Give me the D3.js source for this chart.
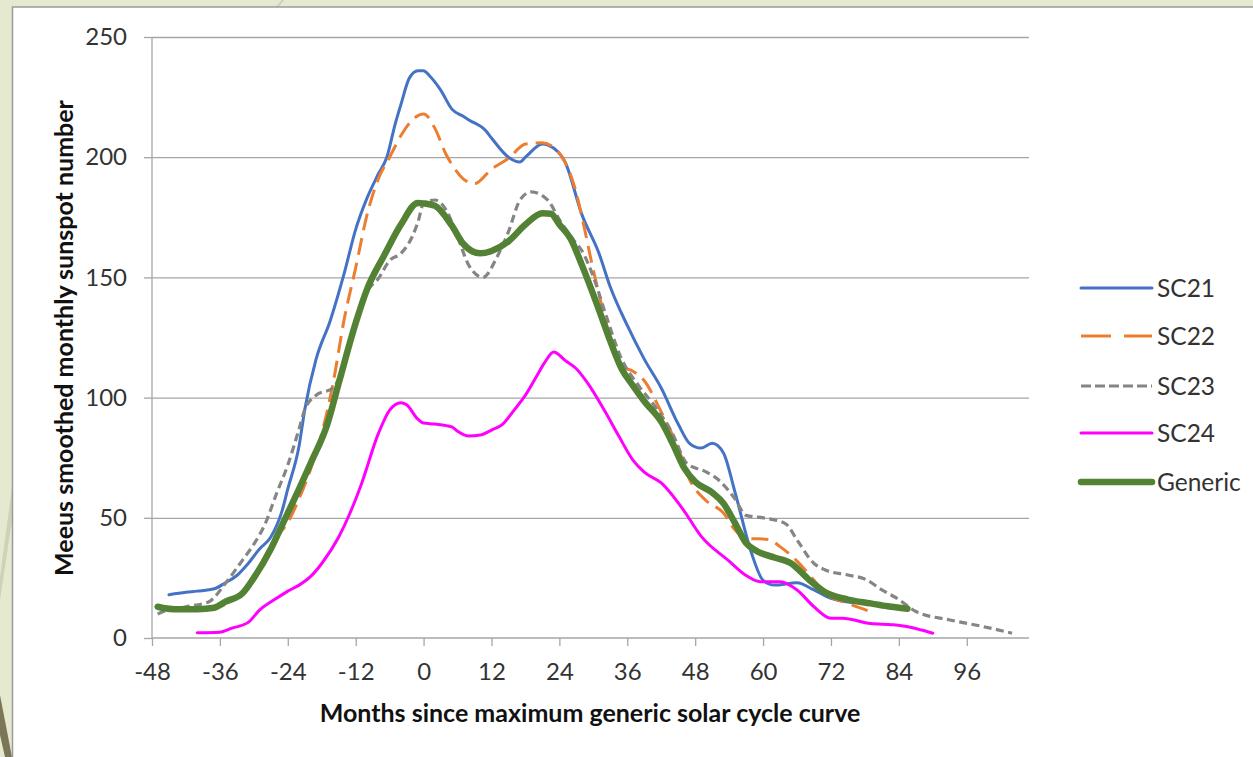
<!DOCTYPE html>
<html>
<head>
<meta charset="utf-8">
<script src="https://cdn.jsdelivr.net/npm/d3@7"></script>
<style>
	html, body { margin: 0; padding: 0; background: #e6e9d2; }
	svg { display: block; }
	text { font-family: Lato, "Open Sans", sans-serif; }
</style>
</head>
<body>
<div id="chart"></div>
<script>

// [months since max, smoothed sunspot number]
const sc21 = [[-45,18],[-42,19],[-40,19.5],[-37,20.5],[-35,23],[-33,26],[-31,31],[-29,37],[-27,42],[-25,53],[-24,62],[-22,80],[-21,95],[-19,116],[-16.5,132],[-14,152],[-12,170],[-10,183],[-8,193],[-6.5,200],[-5,214],[-4,222],[-2.5,233],[-1,236],[0,236],[1,234],[3,228],[5,220],[7,217],[8,215.5],[11,211],[12,208],[15,200],[17,198],[18,200],[21,205.5],[22,205],[25,198],[28,176],[31,160],[33,146],[36,130],[39,116],[42,104],[45,89],[47,81],[49,79],[51,81],[53,77],[55,61],[58,35],[60,24],[62,22],[66,23],[69,20],[72,16.5],[75,15],[80,14.4],[84,13]]

const sc22 = [[-38,12],[-35,14],[-32,19],[-30,25.5],[-28,34],[-26,42],[-24,48],[-22,58],[-20,70],[-18,85],[-16,106],[-14,133],[-12,154],[-10,176],[-8,191],[-6,200],[-4,209],[-2,215.5],[0,218],[2,212],[4,201],[5,197],[7,191],[9,189],[12,195],[15,199.5],[18,205.5],[21,206],[23,204],[25,198],[27,185],[28,175],[30,153],[31,143],[33,125],[35,113],[37,111],[39,107],[42,94],[45,79],[47,66],[50,57],[53,52],[55,45],[57,41.5],[61,41],[63,38],[66,32],[69,24],[71,18.6],[75,14.4],[79,11]]

const sc23 = [[-47,10],[-46,11],[-42,13],[-38,15],[-35,22.8],[-32,32.4],[-30,39],[-28,47.5],[-26,60],[-24,72],[-22,87],[-21,95],[-19,101],[-16,104],[-14,114],[-12,130],[-10,144],[-8,149.5],[-6,157],[-4,160],[-2,167],[-1,173],[0,180.8],[2,182.2],[4,178],[6,166.9],[8,155],[10.5,150],[13,158.6],[15,169],[17,182],[19,185.6],[22,182],[24,174],[26.5,165.6],[28,161],[30,150.3],[32,136],[35,116],[38,105],[41,96],[44,85],[46.5,72.7],[50,69],[52,66],[55,58],[57,51],[60.5,49.8],[64,47.5],[66,40.8],[69,31],[71,28.3],[75,26.2],[78,24.5],[81,20],[84,16],[87,11],[93,7.5],[99,4.7],[104,2]]

const sc24 = [[-40,2.2],[-36,2.4],[-34,4],[-31,6.5],[-29,11.6],[-26,16.5],[-24,19.5],[-22,22],[-20,25.5],[-18,31],[-15,42],[-13,52],[-11,64],[-8,85],[-6,94.8],[-4,97.9],[-3,97],[-1,91],[0,89.4],[2,89],[5,87.8],[6,86],[8,84],[10,84.4],[12,86.5],[14,89],[16,94.8],[18,101],[20,109],[21.5,115],[23,119],[25,115.5],[27,112],[29,106],[32,94.5],[34.5,84],[37,74],[39,69],[42,64.5],[46,53],[49,42.5],[54,32],[57,26],[59.5,23.4],[63,23.4],[66,20],[69,13],[72,8.2],[74,8.2],[79,6],[83,5.5],[86,4.5],[88,3.3],[90,2]]

const generic = [[-47,13],[-46,12.5],[-44,12],[-40,12],[-37,12.6],[-35,15.1],[-32,18.6],[-30,25],[-27,37],[-25,47],[-22,62],[-20,72.5],[-17,89],[-15,106],[-12,131],[-10,145],[-7,159],[-4,172],[-1,181],[0,180.8],[2,179.8],[5,171.5],[7,164],[10,160],[12,161],[15,165],[18,172],[21,176.7],[22.5,176.5],[24,172],[26,166],[28,155],[31,136.5],[33,123.5],[35,112],[37,105],[39,98.5],[42,90],[44,81],[46,71],[48,65],[51,60.5],[53,56],[55,48],[57,39.5],[59,36],[62,33.5],[65,31],[68,24.5],[71,19],[75,16],[79,14.4],[82,13.2],[85.5,12.2]]

const seriesNames = ["SC21", "SC22", "SC23", "SC24", "Generic"]
const xTicks = [-48, -36, -24, -12, 0, 12, 24, 36, 48, 60, 72, 84, 96]
const yTicks = [0, 50, 100, 150, 200, 250]

const series = [
	{ name: seriesNames[0], data: sc21, color: "#4472c4", width: 3, dash: null, legendDash: null },
	{ name: seriesNames[1], data: sc22, color: "#ed7d31", width: 3, dash: "17,8", legendDash: "30,13" },
	{ name: seriesNames[2], data: sc23, color: "#858585", width: 3.2, dash: "8,4.5", legendDash: "10,4" },
	{ name: seriesNames[3], data: sc24, color: "#ff00ff", width: 3, dash: null, legendDash: null },
	{ name: seriesNames[4], data: generic, color: "#548235", width: 6.5, dash: null, legendDash: null }
]

var width = 1253
var height = 757

var svg = d3.select("#chart").append("svg")
	.attr("width", width)
	.attr("height", height)

drawBackground()

var x = d3.scaleLinear()
	.domain([-48, 107])
	.range([152, 1029])

var y = d3.scaleLinear()
	.domain([0, 250])
	.range([638, 37])

// horizontal gridlines
var grid = svg.append("g")
	.attr("class", "grid")
	.attr("transform", "translate(152, 0)")
	.call(d3.axisLeft(y).tickValues(yTicks.slice(1)).tickSize(-(1029 - 152)).tickFormat(""))
grid.select(".domain").remove()
grid.selectAll("line").attr("stroke", "#a6a6a6").attr("stroke-width", 1.3)

// plain hyphen for negatives, like the original
var plainFormat = d => String(d)

var yAxisGroup = svg.append("g")
	.attr("transform", "translate(152, 0)")
	.call(d3.axisLeft(y).tickValues(yTicks).tickSize(8).tickPadding(17).tickFormat(plainFormat))

var xAxisGroup = svg.append("g")
	.attr("transform", "translate(0, 638)")
	.call(d3.axisBottom(x).tickValues(xTicks).tickSize(8).tickPadding(17).tickSizeOuter(0).tickFormat(plainFormat))

yAxisGroup.select(".domain").attr("d", "M0," + y(250) + "V" + y(0))
xAxisGroup.select(".domain").attr("d", "M" + x(-48) + ",0H" + x(107))

;[xAxisGroup, yAxisGroup].forEach(function(g) {
	g.selectAll(".domain, line").attr("stroke", "#a6a6a6").attr("stroke-width", 1.3)
	g.selectAll("text")
		.attr("fill", "#333")
		.style("font-size", "24px")
})

// plot lines
var line = d3.line()
	.x(d => x(d[0]))
	.y(d => y(d[1]))
	.curve(d3.curveMonotoneX)

series.forEach(function(s) {
	svg.append("path")
		.datum(s.data)
		.attr("fill", "none")
		.attr("stroke", s.color)
		.attr("stroke-width", s.width)
		.attr("stroke-linejoin", "round")
		.attr("stroke-linecap", s.dash ? "butt" : "round")
		.attr("stroke-dasharray", s.dash)
		.attr("d", line)
})

// axis titles
svg.append("text")
	.attr("x", 590)
	.attr("y", 722)
	.attr("text-anchor", "middle")
	.attr("font-weight", "bold")
	.style("font-size", "25px")
	.attr("fill", "#111")
	.text("Months since maximum generic solar cycle curve")

svg.append("text")
	.attr("transform", "translate(73, 338) rotate(-90)")
	.attr("text-anchor", "middle")
	.attr("font-weight", "bold")
	.style("font-size", "25px")
	.attr("fill", "#111")
	.text("Meeus smoothed monthly sunspot number")

drawLegend()

function drawLegend() {
	var legend = svg.append("g").attr("class", "legend")
	var rowY = [288, 336, 386, 433, 482]

	series.forEach(function(s, i) {
		legend.append("line")
			.attr("x1", 1081)
			.attr("x2", 1152)
			.attr("y1", rowY[i])
			.attr("y2", rowY[i])
			.attr("stroke", s.color)
			.attr("stroke-width", s.width)
			.attr("stroke-linecap", s.dash ? "butt" : "round")
			.attr("stroke-dasharray", s.legendDash)

		legend.append("text")
			.attr("x", 1157)
			.attr("y", rowY[i])
			.attr("dy", "0.36em")
			.attr("fill", "#333")
			.style("font-size", "24.5px")
			.text(s.name)
	})
}

function drawBackground() {
	var bg = svg.append("g").attr("class", "slide")

	bg.append("rect")
		.attr("width", width)
		.attr("height", height)
		.attr("fill", "#e5e9cf")

	// faint facet stripes from the slide theme
	bg.append("path")
		.attr("d", "M12,487 L12,520 L0,600 L0,577 Z")
		.attr("fill", "#cfd2b4")
	bg.append("path")
		.attr("d", "M0,695 L12,757 L5,757 L0,735 Z")
		.attr("fill", "#7b7657")
	bg.append("path")
		.attr("d", "M276,7 L282,0 L284,0 L278,7 Z")
		.attr("fill", "#c9ccb5")

	bg.append("rect")
		.attr("x", 12.5)
		.attr("y", 7)
		.attr("width", width)
		.attr("height", height)
		.attr("fill", "white")
		.attr("stroke", "#9a9a9a")
		.attr("stroke-width", 1.5)
}

</script>
</body>
</html>
